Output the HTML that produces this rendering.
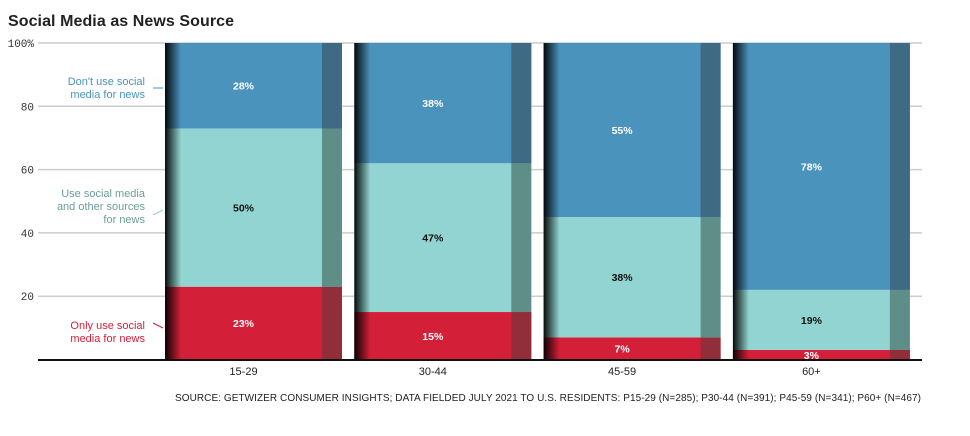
<!DOCTYPE html>
<html><head><meta charset="utf-8"><style>
body{margin:0;background:#fff;font-family:"Liberation Sans",sans-serif}
svg{display:block}
</style></head><body>
<svg id="c" width="970" height="436">
<defs>
<linearGradient id="sh" x1="0" x2="1"><stop offset="0" stop-color="#000" stop-opacity="0.95"/><stop offset="1" stop-color="#000" stop-opacity="0"/></linearGradient>
</defs>
<text x="8" y="26" font-size="16" font-weight="bold" fill="#222" textLength="226">Social Media as News Source</text>
<g id="grid"></g><g id="bars"></g>
<line x1="38" x2="922" y1="360" y2="360" stroke="#111" stroke-width="2"/>
<g font-size="11" text-anchor="end">
<text x="145" y="85" fill="#4a93bd"><tspan x="145">Don't use social</tspan><tspan x="145" dy="13">media for news</tspan></text>
<line x1="153" x2="163" y1="88" y2="88" stroke="#4a93bd"/>
<text x="145" y="197" fill="#6a9e9b"><tspan x="145">Use social media</tspan><tspan x="145" dy="13">and other sources</tspan><tspan x="145" dy="13">for news</tspan></text>
<line x1="153" x2="163" y1="215" y2="210" stroke="#91d4d1"/>
<text x="145" y="329" fill="#d41f38"><tspan x="145">Only use social</tspan><tspan x="145" dy="13">media for news</tspan></text>
<line x1="153" x2="163" y1="323" y2="328" stroke="#d41f38"/>
</g>
<text x="921" y="401" font-size="10" text-anchor="end" fill="#222" textLength="746">SOURCE: GETWIZER CONSUMER INSIGHTS; DATA FIELDED JULY 2021 TO U.S. RESIDENTS: P15-29 (N=285); P30-44 (N=391); P45-59 (N=341); P60+ (N=467)</text>
</svg>
<script>
const categories=["15-29","30-44","45-59","60+"];
const onlySocial=[23,15,7,3];
const useBoth=[50,47,38,19];
const dontUse=[28,38,55,78];
const yTicks=[20,40,60,80,100];
const tickLabels=["20","40","60","80","100%"];
const NS="http://www.w3.org/2000/svg";
const y=v=>359.5-v*3.165;
const barX=i=>165+i*189.3, barW=177;
function el(t,a,p){const e=document.createElementNS(NS,t);for(const k in a)e.setAttribute(k,a[k]);p.appendChild(e);return e;}
const grid=document.getElementById('grid'),bars=document.getElementById('bars');
yTicks.forEach((t,i)=>{
 const l=el('line',{x1:38,x2:922,y1:y(t),y2:y(t),stroke:'#ccc','stroke-width':1.5},grid);
 
 
 const tx=el('text',{x:34,y:y(t)+4,'font-size':11,'text-anchor':'end',fill:'#333','font-family':'Liberation Mono, monospace'},grid);
 tx.textContent=tickLabels[i];
 
 
});
const series=[[onlySocial,'#d41f38','#922d3a','#fff','only-social'],[useBoth,'#91d4d1','#5f8d88','#111','use-both'],[dontUse,'#4a93bd','#3f6a84','#fff','dont-use']];
categories.forEach((c,i)=>{
 let cum=0;const x=barX(i);
 series.forEach(s=>{
  const v=s[0][i];const top=Math.min(100,cum+v);
  const r=el('rect',{x:x,y:y(top),width:barW,height:y(cum)-y(top),fill:s[1]},bars);
  
  
  el('rect',{x:x+barW-20,y:y(top),width:20,height:y(cum)-y(top),fill:s[2]},bars);
  const t=el('text',{x:x+(barW-20)/2,y:(y(top)+y(cum))/2+4,'font-size':10.5,'font-weight':'bold','text-anchor':'middle',fill:s[3]},bars);
  t.textContent=v+'%';
  
  
  cum=top;
 });
 el('rect',{x:x,y:y(100),width:16,height:y(0)-y(100),fill:'url(#sh)'},bars);
 const lb=el('text',{x:x+(barW-20)/2,y:375,'font-size':11,'text-anchor':'middle',fill:'#222'},bars);
 lb.textContent=c;
 
 
});
</script>
</body></html>
